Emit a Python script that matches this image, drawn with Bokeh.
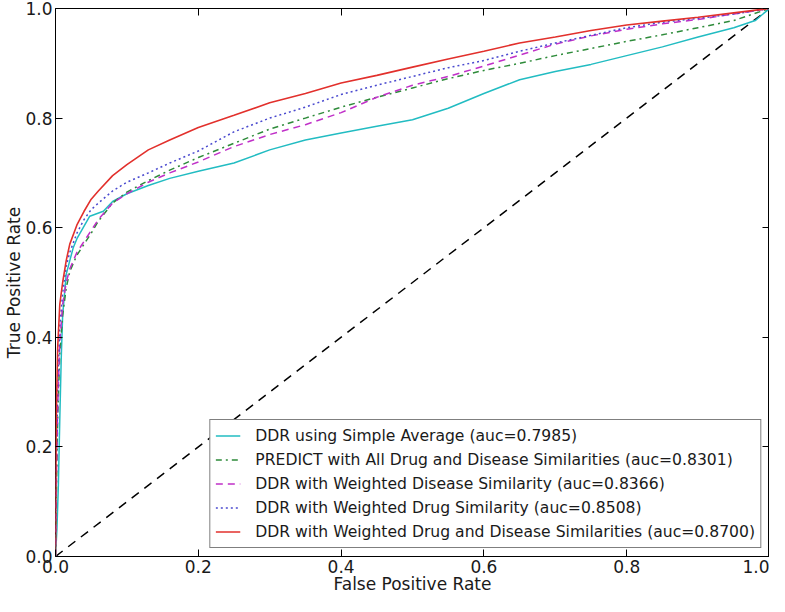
from bokeh.plotting import figure
from bokeh.models import LinearAxis, FixedTicker, Range1d, Legend, LegendItem
from bokeh.embed import file_html
from bokeh.resources import INLINE

# ---- data ----
fpr_avg = [0, 0.002, 0.004, 0.006, 0.008, 0.010, 0.015, 0.020, 0.025, 0.030, 0.040, 0.048, 0.067,
           0.080, 0.10, 0.13, 0.16, 0.20, 0.25, 0.30, 0.35, 0.40, 0.45, 0.50, 0.55, 0.60, 0.65,
           0.70, 0.75, 0.80, 0.85, 0.90, 0.95, 0.98, 1.0]
tpr_avg = [0, 0.05, 0.13, 0.25, 0.36, 0.44, 0.515, 0.54, 0.564, 0.58, 0.603, 0.621, 0.630,
           0.648, 0.662, 0.677, 0.690, 0.703, 0.718, 0.742, 0.760, 0.773, 0.785, 0.797, 0.818, 0.845, 0.870,
           0.885, 0.898, 0.914, 0.930, 0.948, 0.965, 0.978, 1.0]

fpr_grid = [0, 0.001, 0.003, 0.006, 0.01, 0.015, 0.02, 0.03, 0.04, 0.05, 0.06, 0.08, 0.10, 0.13,
            0.16, 0.20, 0.25, 0.30, 0.35, 0.40, 0.45, 0.50, 0.55, 0.60, 0.65, 0.70, 0.75, 0.80,
            0.85, 0.90, 0.95, 1.0]
tpr_predict = [0, 0.10, 0.25, 0.37, 0.44, 0.49, 0.52, 0.55, 0.57, 0.59, 0.612, 0.645, 0.665, 0.686,
               0.705, 0.728, 0.754, 0.780, 0.800, 0.820, 0.838, 0.855, 0.872, 0.887, 0.900, 0.914, 0.927, 0.940,
               0.952, 0.965, 0.978, 1.0]
tpr_disease = [0, 0.12, 0.27, 0.39, 0.46, 0.50, 0.525, 0.555, 0.575, 0.595, 0.615, 0.645, 0.662, 0.683,
               0.700, 0.720, 0.748, 0.770, 0.788, 0.810, 0.838, 0.860, 0.876, 0.895, 0.915, 0.935, 0.950, 0.962,
               0.972, 0.980, 0.990, 1.0]
tpr_drug = [0, 0.15, 0.30, 0.42, 0.48, 0.53, 0.555, 0.59, 0.615, 0.633, 0.645, 0.667, 0.683, 0.700,
            0.718, 0.740, 0.775, 0.800, 0.820, 0.843, 0.860, 0.876, 0.892, 0.905, 0.922, 0.937, 0.951, 0.965,
            0.975, 0.982, 0.990, 1.0]
tpr_both = [0, 0.25, 0.38, 0.46, 0.50, 0.54, 0.57, 0.605, 0.63, 0.652, 0.667, 0.695, 0.715, 0.742,
            0.760, 0.783, 0.805, 0.828, 0.845, 0.864, 0.878, 0.893, 0.908, 0.922, 0.937, 0.948, 0.960, 0.970,
            0.977, 0.984, 0.992, 1.0]

chance = [0.0, 1.0]

labels = [
    "DDR using Simple Average (auc=0.7985)",
    "PREDICT with All Drug and Disease Similarities (auc=0.8301)",
    "DDR with Weighted Disease Similarity (auc=0.8366)",
    "DDR with Weighted Drug Similarity (auc=0.8508)",
    "DDR with Weighted Drug and Disease Similarities (auc=0.8700)",
]
ticks = [0.0, 0.2, 0.4, 0.6, 0.8, 1.0]
tick_labels = ["0.0", "0.2", "0.4", "0.6", "0.8", "1.0"]

FONT = "DejaVu Sans"

p = figure(width=769, height=596, output_backend="svg", toolbar_location=None,
           x_range=Range1d(0, 1), y_range=Range1d(0, 1),
           min_border_left=55, min_border_right=0, min_border_top=8, min_border_bottom=0)
p.background_fill_color = "white"
p.border_fill_color = "white"
p.outline_line_color = "black"
p.outline_line_width = 1
p.xgrid.visible = False
p.ygrid.visible = False

def style_axis(ax, show_labels=True):
    ax.ticker = FixedTicker(ticks=ticks)
    ax.major_tick_in = 7
    ax.major_tick_out = 0
    ax.minor_tick_line_color = None
    ax.axis_line_color = None
    ax.major_tick_line_color = "black"
    ax.major_label_text_font = FONT
    ax.axis_label_text_font = FONT
    ax.axis_label_text_font_style = "normal"
    ax.axis_label_text_color = "#1a1a1a"
    if show_labels:
        ax.major_label_text_color = "#1a1a1a"
        ax.major_label_text_font_size = "17px"
        ax.axis_label_text_font_size = "17px"
        ax.major_label_standoff = 3
        ax.axis_label_standoff = -2
        ax.major_label_overrides = dict(zip(ticks, tick_labels))
    else:
        ax.major_label_text_color = None
        ax.major_label_text_font_size = "1px"
        ax.major_label_standoff = 0

xa = p.xaxis[0]
ya = p.yaxis[0]
style_axis(xa)
style_axis(ya)
xa.axis_label = "False Positive Rate"
ya.axis_label = "True Positive Rate"

top_ax = LinearAxis()
right_ax = LinearAxis()
style_axis(top_ax, show_labels=False)
style_axis(right_ax, show_labels=False)
p.add_layout(top_ax, "above")
p.add_layout(right_ax, "right")

p.line(chance, chance, line_color="black", line_width=1.5, line_dash="9 7")

r_avg = p.line(fpr_avg, tpr_avg, line_color="#22BCC2", line_width=1.5)
r_pred = p.line(fpr_grid, tpr_predict, line_color="#2E8B3A", line_width=1.5, line_dash="6 4 2 4")
r_dis = p.line(fpr_grid, tpr_disease, line_color="#C030C8", line_width=1.5, line_dash="7 5")
r_drug = p.line(fpr_grid, tpr_drug, line_color="#4A4ACF", line_width=1.5, line_dash="2 3")
r_both = p.line(fpr_grid, tpr_both, line_color="#E2302C", line_width=1.6)

legend = Legend(items=[LegendItem(label=l, renderers=[r]) for l, r in
                       zip(labels, [r_avg, r_pred, r_dis, r_drug, r_both])])
legend.location = "bottom_right"
legend.margin = 8
legend.padding = 5
legend.spacing = 3
legend.label_height = 21
legend.glyph_height = 21
legend.glyph_width = 25
legend.label_standoff = 15
legend.label_text_font = FONT
legend.label_text_font_size = "15.6px"
legend.label_text_color = "#1a1a1a"
legend.border_line_color = "black"
legend.border_line_width = 1
legend.background_fill_color = "white"
legend.background_fill_alpha = 1.0
p.add_layout(legend, "center")

open("out.html", "w").write(file_html(p, INLINE))
